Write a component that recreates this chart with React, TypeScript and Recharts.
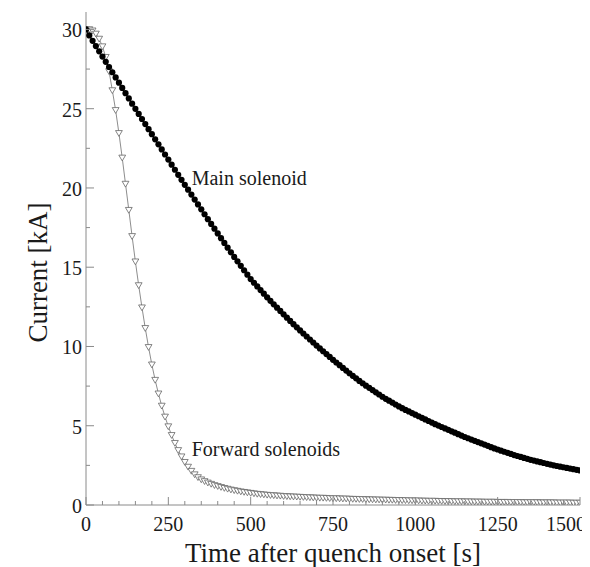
import { Line, LineChart, ReferenceDot, XAxis, YAxis, Label } from "recharts";

// time grid of the simulation output, seconds
const times = [
  0, 10, 20, 30, 40, 50, 60, 70, 80, 90,
  100, 110, 120, 130, 140, 150, 160, 170, 180, 190,
  200, 210, 220, 230, 240, 250, 260, 270, 280, 290,
  300, 310, 320, 330, 340, 350, 360, 370, 380, 390,
  400, 410, 420, 430, 440, 450, 460, 470, 480, 490,
  500, 510, 520, 530, 540, 550, 560, 570, 580, 590,
  600, 610, 620, 630, 640, 650, 660, 670, 680, 690,
  700, 710, 720, 730, 740, 750, 760, 770, 780, 790,
  800, 810, 820, 830, 840, 850, 860, 870, 880, 890,
  900, 910, 920, 930, 940, 950, 960, 970, 980, 990,
  1000, 1010, 1020, 1030, 1040, 1050, 1060, 1070, 1080, 1090,
  1100, 1110, 1120, 1130, 1140, 1150, 1160, 1170, 1180, 1190,
  1200, 1210, 1220, 1230, 1240, 1250, 1260, 1270, 1280, 1290,
  1300, 1310, 1320, 1330, 1340, 1350, 1360, 1370, 1380, 1390,
  1400, 1410, 1420, 1430, 1440, 1450, 1460, 1470, 1480, 1490,
  1500,
];

// main solenoid current, kA
const mainCurrent = [
  30.0, 29.62, 29.28, 28.95, 28.62, 28.29, 27.96, 27.63, 27.3, 26.97,
  26.64, 26.31, 25.98, 25.65, 25.32, 24.99, 24.67, 24.35, 24.03, 23.71,
  23.39, 23.07, 22.75, 22.43, 22.11, 21.79, 21.47, 21.15, 20.83, 20.51,
  20.2, 19.89, 19.58, 19.27, 18.96, 18.65, 18.34, 18.03, 17.73, 17.43,
  17.13, 16.83, 16.53, 16.23, 15.94, 15.65, 15.37, 15.09, 14.81, 14.53,
  14.25, 14.02, 13.79, 13.56, 13.33, 13.1, 12.88, 12.66, 12.45, 12.24,
  12.03, 11.82, 11.61, 11.41, 11.21, 11.01, 10.82, 10.63, 10.44, 10.25,
  10.06, 9.88, 9.7, 9.52, 9.34, 9.16, 8.99, 8.82, 8.65, 8.48,
  8.31, 8.15, 7.99, 7.83, 7.68, 7.53, 7.39, 7.25, 7.11, 6.97,
  6.83, 6.7, 6.58, 6.46, 6.34, 6.22, 6.11, 6.0, 5.9, 5.8,
  5.7, 5.6, 5.5, 5.4, 5.3, 5.2, 5.1, 5.01, 4.92, 4.83,
  4.74, 4.65, 4.56, 4.47, 4.38, 4.29, 4.21, 4.13, 4.05, 3.97,
  3.89, 3.81, 3.73, 3.65, 3.57, 3.5, 3.43, 3.36, 3.29, 3.22,
  3.15, 3.09, 3.03, 2.97, 2.91, 2.85, 2.8, 2.75, 2.7, 2.65,
  2.6, 2.55, 2.5, 2.46, 2.42, 2.38, 2.34, 2.3, 2.26, 2.22,
  2.18,
];

// forward solenoids current, kA
const forwardCurrent = [
  30.0, 30.0, 29.92, 29.72, 29.4, 28.92, 28.25, 27.35, 26.15, 24.9,
  23.45, 21.9, 20.25, 18.6, 16.95, 15.35, 13.85, 12.45, 11.15, 9.95,
  8.85, 7.88, 7.02, 6.25, 5.56, 4.95, 4.4, 3.9, 3.45, 3.05,
  2.7, 2.4, 2.14, 1.92, 1.74, 1.6, 1.49, 1.4, 1.32, 1.24,
  1.18, 1.12, 1.06, 1.01, 0.96, 0.92, 0.88, 0.84, 0.81, 0.78,
  0.75, 0.72, 0.69, 0.67, 0.65, 0.63, 0.61, 0.6, 0.58, 0.57,
  0.55, 0.54, 0.53, 0.52, 0.51, 0.5, 0.49, 0.48, 0.47, 0.46,
  0.45, 0.44, 0.44, 0.43, 0.42, 0.41, 0.41, 0.4, 0.39, 0.39,
  0.38, 0.37, 0.37, 0.36, 0.36, 0.35, 0.34, 0.34, 0.33, 0.33,
  0.32, 0.32, 0.31, 0.31, 0.3, 0.3, 0.29, 0.29, 0.28, 0.28,
  0.27, 0.27, 0.26, 0.26, 0.25, 0.25, 0.25, 0.24, 0.24, 0.23,
  0.23, 0.23, 0.22, 0.22, 0.22, 0.21, 0.21, 0.21, 0.2, 0.2,
  0.2, 0.19, 0.19, 0.19, 0.19, 0.18, 0.18, 0.18, 0.18, 0.17,
  0.17, 0.17, 0.17, 0.16, 0.16, 0.16, 0.16, 0.16, 0.15, 0.15,
  0.15, 0.15, 0.15, 0.14, 0.14, 0.14, 0.14, 0.14, 0.13, 0.13,
  0.13,
];

const xTicks = [
  0, 50, 100, 150, 200, 250, 300, 350, 400, 450, 500, 550, 600, 650, 700, 750,
  800, 850, 900, 950, 1000, 1050, 1100, 1150, 1200, 1250, 1300, 1350, 1400,
  1450, 1500,
];
const yTicks = [0, 2.5, 5, 7.5, 10, 12.5, 15, 17.5, 20, 22.5, 25, 27.5, 30];

const data = times.map((t, i) => ({
  t,
  main: mainCurrent[i],
  fwd: forwardCurrent[i],
}));

const FONT = "'Liberation Serif', 'Times New Roman', serif";
const FRAME = "#8a8a8a";
const INK = "#1a1a1a";

const BottomTick = (props: any) => {
  const { x, y, payload } = props;
  const v = payload.value;
  const major = v % 250 === 0;
  return (
    <g>
      <line x1={x} x2={x} y1={y} y2={y - (major ? 8 : 4)} stroke={FRAME} />
      {major && (
        <text
          x={v === 1500 ? x - 14 : x}
          y={y + 19}
          textAnchor="middle"
          dominantBaseline="central"
          fontSize={20}
          fontFamily={FONT}
          fill={INK}
        >
          {v}
        </text>
      )}
    </g>
  );
};

const TopTick = (props: any) => {
  const { x, y, payload } = props;
  const major = payload.value % 250 === 0;
  return <line x1={x} x2={x} y1={y} y2={y + (major ? 8 : 4)} stroke={FRAME} />;
};

const LeftTick = (props: any) => {
  const { x, y, payload } = props;
  const v = payload.value;
  const major = v % 5 === 0;
  return (
    <g>
      <line x1={x} x2={x + (major ? 8 : 4)} y1={y} y2={y} stroke={FRAME} />
      {major && (
        <text
          x={x - 4}
          y={y + 1}
          textAnchor="end"
          dominantBaseline="central"
          fontSize={20}
          fontFamily={FONT}
          fill={INK}
        >
          {v}
        </text>
      )}
    </g>
  );
};

const RightTick = (props: any) => {
  const { x, y, payload } = props;
  const major = payload.value % 5 === 0;
  return <line x1={x} x2={x - (major ? 8 : 4)} y1={y} y2={y} stroke={FRAME} />;
};

const Triangle = (props: any) => {
  const { cx, cy, index } = props;
  if (cx == null || cy == null) return <g key={`tri-${index}`} />;
  return (
    <path
      key={`tri-${index}`}
      d={`M${cx - 3.4},${cy - 2.7} L${cx + 3.4},${cy - 2.7} L${cx},${cy + 3.1} Z`}
      fill="#fff"
      stroke="#666"
      strokeWidth={0.8}
    />
  );
};

const note = (text: string) => (p: any) => (
  <text x={p.cx} y={p.cy} fontSize={20} fontFamily={FONT} fill={INK}>
    {text}
  </text>
);

export default function App() {
  return (
    <LineChart
      width={582}
      height={559}
      data={data}
      margin={{ top: 4, right: 10, bottom: 32, left: 8 }}
    >
      <XAxis
        dataKey="t"
        type="number"
        domain={[0, 1500]}
        allowDataOverflow
        ticks={xTicks}
        interval={0}
        tickLine={false}
        tickSize={0}
        tickMargin={0}
        tick={<BottomTick />}
        axisLine={{ stroke: FRAME }}
        height={30}
      >
        <Label
          content={(p: any) => {
            const vb = p.viewBox;
            return (
              <text
                x={vb.x + vb.width / 2}
                y={vb.y + 57}
                textAnchor="middle"
                fontSize={27}
                fontFamily={FONT}
                fill={INK}
              >
                Time after quench onset [s]
              </text>
            );
          }}
        />
      </XAxis>
      <XAxis
        xAxisId="top"
        orientation="top"
        dataKey="t"
        type="number"
        domain={[0, 1500]}
        allowDataOverflow
        ticks={xTicks}
        interval={0}
        tickLine={false}
        tickSize={0}
        tickMargin={0}
        tick={<TopTick />}
        axisLine={{ stroke: FRAME }}
        height={0}
      />
      <YAxis
        type="number"
        domain={[0, 31.1]}
        allowDataOverflow
        ticks={yTicks}
        interval={0}
        tickLine={false}
        tickSize={0}
        tickMargin={0}
        tick={<LeftTick />}
        axisLine={{ stroke: FRAME }}
        width={70}
      >
        <Label
          content={(p: any) => {
            const vb = p.viewBox;
            const cx = vb.x + 22;
            const cy = vb.y + vb.height / 2 + 14;
            return (
              <text
                x={cx}
                y={cy}
                transform={`rotate(-90 ${cx} ${cy})`}
                textAnchor="middle"
                dominantBaseline="central"
                fontSize={27}
                fontFamily={FONT}
                fill={INK}
              >
                Current [kA]
              </text>
            );
          }}
        />
      </YAxis>
      <YAxis
        yAxisId="right"
        orientation="right"
        type="number"
        domain={[0, 31.1]}
        allowDataOverflow
        ticks={yTicks}
        interval={0}
        tickLine={false}
        tickSize={0}
        tickMargin={0}
        tick={<RightTick />}
        axisLine={{ stroke: FRAME }}
        width={0}
      />
      <Line
        dataKey="fwd"
        stroke="#707070"
        strokeWidth={0.8}
        dot={Triangle}
        isAnimationActive={false}
      />
      <Line
        dataKey="main"
        stroke="#000"
        strokeWidth={1}
        dot={{ r: 3.1, fill: "#000", stroke: "none" }}
        isAnimationActive={false}
      />
      <ReferenceDot x={321} y={20.19} r={0} shape={note("Main solenoid")} />
      <ReferenceDot x={321} y={3.09} r={0} shape={note("Forward solenoids")} />
    </LineChart>
  );
}
